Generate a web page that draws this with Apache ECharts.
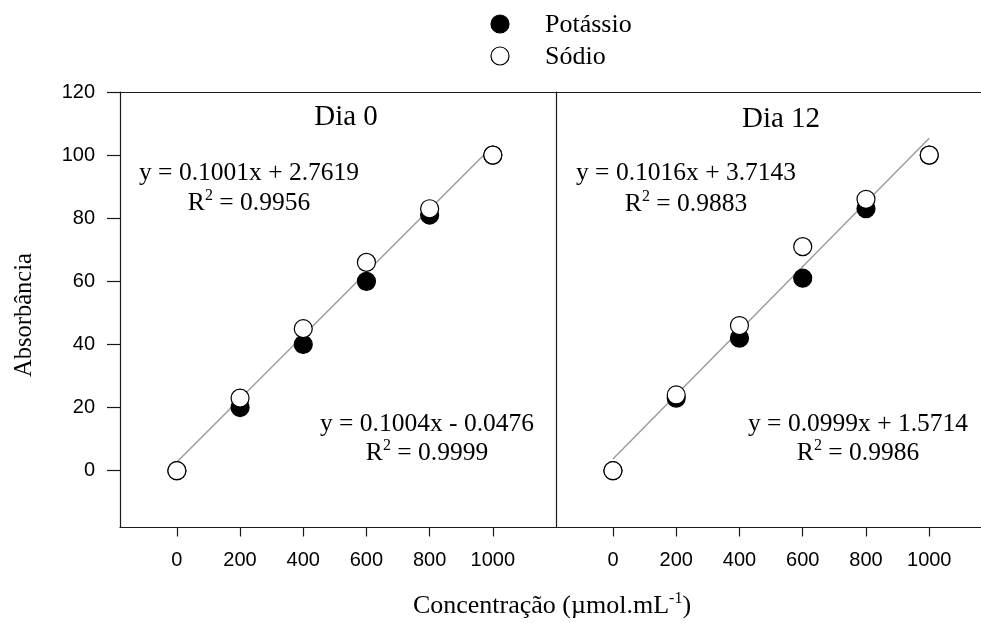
<!DOCTYPE html>
<html>
<head>
<meta charset="utf-8">
<script src="https://cdn.jsdelivr.net/npm/echarts@6/dist/echarts.min.js"></script>
<style>
  html, body { margin: 0; padding: 0; background: #fff; }
  #chart { width: 981px; height: 623px; }
</style>
</head>
<body>
<div id="chart"></div>
<script>
// Concentration levels (µmol.mL-1) and measured absorbance per ion and day
var concentracao = [0, 200, 400, 600, 800, 1000];
var potassioDia0 = [0, 20, 40, 60, 81, 100];
var sodioDia0 = [0, 23, 45, 66, 83, 100];
var potassioDia12 = [0, 23, 42, 61, 83, 100];
var sodioDia12 = [0, 24, 46, 71, 86, 100];

// Axis ticks
var xTicks = [0, 200, 400, 600, 800, 1000];
var yTicks = [0, 20, 40, 60, 80, 100, 120];

// Panel titles
var panelTitles = ['Dia 0', 'Dia 12'];

// Fitted line drawn in each panel (sodium fit): slope and intercept
var fitSlope = [0.1001, 0.1016];
var fitIntercept = [2.7619, 3.7143];

// Regression equations shown in each panel
var eqSodio = [
  { eq: 'y = 0.1001x + 2.7619', r2: '0.9956' },
  { eq: 'y = 0.1016x + 3.7143', r2: '0.9883' }
];
var eqPotassio = [
  { eq: 'y = 0.1004x - 0.0476', r2: '0.9999' },
  { eq: 'y = 0.0999x + 1.5714', r2: '0.9986' }
];

var SERIF = '"Liberation Serif", "Times New Roman", serif';
var SANS = '"Liberation Sans", Arial, sans-serif';
var FRAME = '#1a1a1a';

var chart = echarts.init(document.getElementById('chart'), null, { renderer: 'canvas' });

function pairs(xs, ys) {
  return xs.map(function (x, i) { return [x, ys[i]]; });
}

function fitLine(k) {
  var x0 = concentracao[0];
  var x1 = concentracao[concentracao.length - 1];
  return [[x0, fitSlope[k] * x0 + fitIntercept[k]], [x1, fitSlope[k] * x1 + fitIntercept[k]]];
}

// The second panel runs to the right edge of the canvas, with the same x scale
var gridTop = 92, gridH = 435.5;
var grids = [
  { left: 120, top: gridTop, width: 436, height: gridH },
  { left: 556, top: gridTop, width: 425, height: gridH }
];
var xMax = [1200, 1163.6];

var lineStyle = { color: FRAME, width: 1.2 };

function xAxisFor(i) {
  return {
    type: 'value', gridIndex: i, min: -180, max: xMax[i], position: 'bottom',
    splitLine: { show: false },
    axisLine: { show: true, onZero: false, lineStyle: lineStyle },
    axisTick: { show: true, length: 9, customValues: xTicks, lineStyle: lineStyle },
    axisLabel: {
      customValues: xTicks, margin: 23, color: '#000', fontFamily: SANS, fontSize: 20,
      formatter: function (v) { return String(v); }
    }
  };
}

// Top edge of each panel
function xTopFor(i) {
  return {
    type: 'value', gridIndex: i, min: -180, max: xMax[i], position: 'top',
    splitLine: { show: false },
    axisLine: { show: true, onZero: false, lineStyle: lineStyle },
    axisTick: { show: false }, axisLabel: { show: false }
  };
}

function yAxisFor(i) {
  return {
    type: 'value', gridIndex: i, min: -18, max: 120, position: 'left',
    splitLine: { show: false },
    axisLine: { show: true, onZero: false, lineStyle: lineStyle },
    axisTick: { show: i === 0, length: 13, customValues: yTicks, lineStyle: lineStyle },
    axisLabel: { show: i === 0, customValues: yTicks, margin: 25, color: '#000', fontFamily: SANS, fontSize: 20 }
  };
}

var potassio = [potassioDia0, potassioDia12];
var sodio = [sodioDia0, sodioDia12];

var series = [];
[0, 1].forEach(function (i) {
  series.push({
    type: 'line', xAxisIndex: i, yAxisIndex: i, z: 1,
    data: fitLine(i), symbol: 'none', silent: true,
    lineStyle: { color: '#9a9a9a', width: 1.4 }
  });
  series.push({
    name: 'Potássio', type: 'scatter', xAxisIndex: i, yAxisIndex: i, z: 2,
    data: pairs(concentracao, potassio[i]), symbol: 'circle', symbolSize: 18,
    itemStyle: { color: '#000', borderColor: '#000', borderWidth: 1.2, opacity: 1 }
  });
  series.push({
    name: 'Sódio', type: 'scatter', xAxisIndex: i, yAxisIndex: i, z: 3,
    data: pairs(concentracao, sodio[i]), symbol: 'circle', symbolSize: 18,
    itemStyle: { color: '#fff', borderColor: '#000', borderWidth: 1.2, opacity: 1 }
  });
});

function eqText(x, y, main, r2) {
  return [
    {
      type: 'text', x: x, y: y.eq, z: 10,
      style: { text: main, fill: '#000', font: '25.5px ' + SERIF, align: 'center', verticalAlign: 'middle' }
    },
    {
      type: 'text', x: x, y: y.r2, z: 10,
      style: {
        text: '{a|R}{s|2}{a| = ' + r2 + '}',
        align: 'center', verticalAlign: 'middle',
        rich: {
          a: { fontFamily: SERIF, fontSize: 25.5, fill: '#000', color: '#000' },
          s: { fontFamily: SERIF, fontSize: 16, fill: '#000', color: '#000', padding: [0, 0, 14, 0] }
        }
      }
    }
  ];
}

var graphics = [];
// Panel titles
graphics.push({ type: 'text', x: 346, y: 117, style: { text: panelTitles[0], fill: '#000', font: '29px ' + SERIF, align: 'center', verticalAlign: 'middle' } });
graphics.push({ type: 'text', x: 781, y: 119, style: { text: panelTitles[1], fill: '#000', font: '29px ' + SERIF, align: 'center', verticalAlign: 'middle' } });
// Equations
graphics = graphics.concat(eqText(249, { eq: 173, r2: 203 }, eqSodio[0].eq, eqSodio[0].r2));
graphics = graphics.concat(eqText(686, { eq: 173, r2: 204 }, eqSodio[1].eq, eqSodio[1].r2));
graphics = graphics.concat(eqText(427, { eq: 424, r2: 453 }, eqPotassio[0].eq, eqPotassio[0].r2));
graphics = graphics.concat(eqText(858, { eq: 424, r2: 453 }, eqPotassio[1].eq, eqPotassio[1].r2));
// Legend
graphics.push({ type: 'circle', shape: { cx: 500, cy: 24, r: 9 }, style: { fill: '#000', stroke: '#000', lineWidth: 1.2 } });
graphics.push({ type: 'circle', shape: { cx: 500, cy: 56, r: 9 }, style: { fill: '#fff', stroke: '#000', lineWidth: 1.2 } });
graphics.push({ type: 'text', x: 545, y: 25, style: { text: 'Potássio', fill: '#000', font: '26px ' + SERIF, align: 'left', verticalAlign: 'middle' } });
graphics.push({ type: 'text', x: 545, y: 57, style: { text: 'Sódio', fill: '#000', font: '26px ' + SERIF, align: 'left', verticalAlign: 'middle' } });
// Axis titles
graphics.push({ type: 'text', x: 25, y: 315, rotation: Math.PI / 2, style: { text: 'Absorbância', fill: '#000', font: '24.5px ' + SERIF, align: 'center', verticalAlign: 'middle' } });
graphics.push({
  type: 'text', x: 552, y: 606,
  style: {
    text: '{a|Concentração (µmol.mL}{s|-1}{a|)}',
    align: 'center', verticalAlign: 'middle',
    rich: {
      a: { fontFamily: SERIF, fontSize: 26, fill: '#000', color: '#000' },
      s: { fontFamily: SERIF, fontSize: 16, fill: '#000', color: '#000', padding: [0, 0, 14, 0] }
    }
  }
});

chart.setOption({
  animation: false,
  backgroundColor: '#fff',
  grid: grids,
  xAxis: [xAxisFor(0), xAxisFor(1), xTopFor(0), xTopFor(1)],
  yAxis: [yAxisFor(0), yAxisFor(1)],
  series: series,
  graphic: { elements: graphics }
});
</script>
</body>
</html>
